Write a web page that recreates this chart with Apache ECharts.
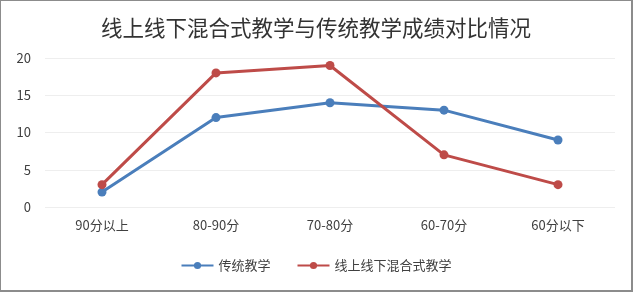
<!DOCTYPE html>
<html>
<head>
<meta charset="utf-8">
<script src="https://cdn.jsdelivr.net/npm/echarts@6/dist/echarts.min.js"></script>
<style>
  html, body { margin: 0; padding: 0; background: #fff; }
  #chart { width: 630px; height: 289px; border: 1px solid #8c8c8c; border-width: 1px 2px 2px 1px; }
</style>
</head>
<body>
<div id="chart"></div>
<script>
const categories = ['90分以上', '80-90分', '70-80分', '60-70分', '60分以下']
const traditional = [2, 12, 14, 13, 9]
const blended = [3, 18, 19, 7, 3]
const yTicks = { min: 0, max: 20, interval: 5 }

const FONT = '"Noto Sans CJK SC", "Noto Sans", sans-serif'

const chart = echarts.init(document.getElementById('chart'), null, { renderer: 'canvas' })

chart.setOption({
    animation: false,
    color: ['#4a7ebb', '#be4b48'],
    title: {
        text: '线上线下混合式教学与传统教学成绩对比情况',
        left: 'center',
        top: 11,
        textStyle: { fontFamily: FONT, fontSize: 21.5, fontWeight: 'normal', color: '#333333' },
    },
    legend: {
        bottom: 13,
        left: 'center',
        itemWidth: 32,
        itemHeight: 9,
        itemGap: 26,
        textStyle: { fontFamily: FONT, fontSize: 13, color: '#404040' },
        data: ['传统教学', '线上线下混合式教学'],
    },
    grid: { left: 44, right: 16, top: 57, bottom: 83 },
    xAxis: {
        type: 'category',
        data: categories,
        boundaryGap: true,
        axisLine: { show: false },
        axisTick: { show: false },
        axisLabel: { fontFamily: FONT, fontSize: 13, color: '#404040', margin: 12 },
    },
    yAxis: {
        type: 'value',
        min: yTicks.min,
        max: yTicks.max,
        interval: yTicks.interval,
        axisLine: { show: false },
        axisTick: { show: false },
        axisLabel: { fontFamily: FONT, fontSize: 13, color: '#404040', margin: 14 },
        splitLine: { lineStyle: { color: '#eeeeee', width: 1 } },
    },
    series: [
        {
            name: '传统教学',
            type: 'line',
            data: traditional,
            symbol: 'circle',
            symbolSize: 9,
            lineStyle: { width: 3 },
        },
        {
            name: '线上线下混合式教学',
            type: 'line',
            data: blended,
            symbol: 'circle',
            symbolSize: 9,
            lineStyle: { width: 3 },
        },
    ],
})
</script>
</body>
</html>
